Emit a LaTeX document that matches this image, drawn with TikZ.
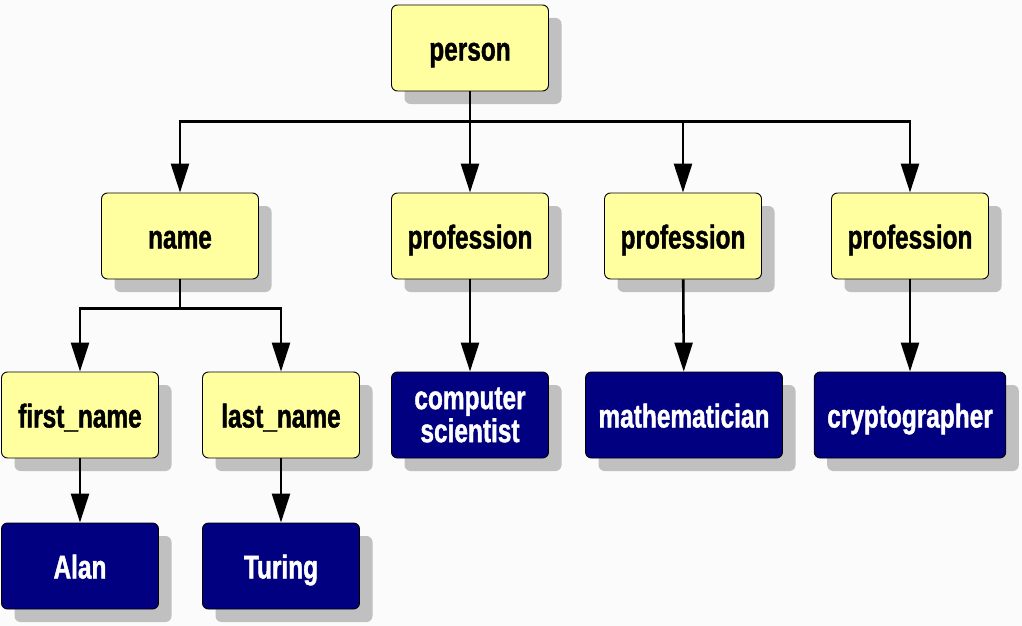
\documentclass[tikz,border=0pt]{standalone}
\usepackage{fontspec}
\usepackage{tikz}
\usetikzlibrary{arrows.meta,shadows}
\newfontfamily\boxfont{Liberation Sans}[FakeStretch=0.74,BoldFeatures={FakeBold=1.2}]
\definecolor{termfill}{RGB}{255,255,160}
\definecolor{leaffill}{RGB}{0,0,128}
\definecolor{shadowgray}{RGB}{192,192,192}
\definecolor{bgcol}{RGB}{251,251,251}
\tikzset{
  box/.style={draw=black,line width=0.9pt,rounded corners=6pt,minimum width=157pt,
    minimum height=86pt,inner xsep=13pt,align=center,
    font=\boxfont\bfseries\fontsize{33}{33}\selectfont,
    drop shadow={shadow xshift=13pt,shadow yshift=-13pt,fill=shadowgray,opacity=1}},
  oneline/.style={text height=27pt,text depth=2pt},
  term/.style={box,oneline,fill=termfill,text=black},
  leaf/.style={box,oneline,fill=leaffill,text=white},
  twoline/.style={box,fill=leaffill,text=white},
  link/.style={line width=2.6pt},
  arrow/.style={link,-{Triangle[length=29pt,width=18pt]}}
}
\begin{document}
\begin{tikzpicture}[x=1pt,y=-1pt,node distance=188pt]
      \fill[bgcol] (0,0) rectangle (1022,626);
      \useasboundingbox (0,0) rectangle (1022,626);
      \node[term] (person) at (470,48) {person};
      \node[term,below of=person] (prof1) {profession};
      \node[term,left of=prof1,xshift=-102pt] (name) {name};
      \node[term,right of=prof1,xshift=25pt] (prof2) {profession};
      \node[term,right of=prof2,xshift=39pt] (prof3) {profession};
      \node[term,below of=name,xshift=-100pt,yshift=9pt] (first) {first\_name};
      \node[term,below of=name,xshift=101pt,yshift=9pt] (last) {last\_name};
      \node[twoline,below of=prof1,yshift=9pt] (sci) {computer\\scientist};
      \node[leaf,below of=prof2,xshift=1pt,yshift=9pt] (math) {mathematician};
      \node[leaf,below of=prof3,yshift=9pt] (crypt) {cryptographer};
      \node[leaf,below of=first,yshift=37pt] (alan) {Alan};
      \node[leaf,below of=last,yshift=37pt] (turing) {Turing};
      %% Top level
      \draw[link] (person.south) -- ++(0,30) coordinate (bus);
      \draw[arrow] (bus) -| (name.north);
      \draw[arrow] (bus) -- (prof1.north);
      \draw[arrow] (bus) -| (prof2.north);
      \draw[arrow] (bus) -| (prof3.north);
      %% Name parts
      \draw[link] (name.south) -- ++(0,29) coordinate (namebus);
      \draw[arrow] (namebus) -| (first.north);
      \draw[arrow] (namebus) -| (last.north);
      \draw[arrow] (first) -- (alan);
      \draw[arrow] (last) -- (turing);
      %% Professions
      \draw[arrow] (prof1) -- (sci);
      \draw[arrow] (prof2) -- (math);
      \draw[arrow] (prof3) -- (crypt);
    \end{tikzpicture}
\end{document}
